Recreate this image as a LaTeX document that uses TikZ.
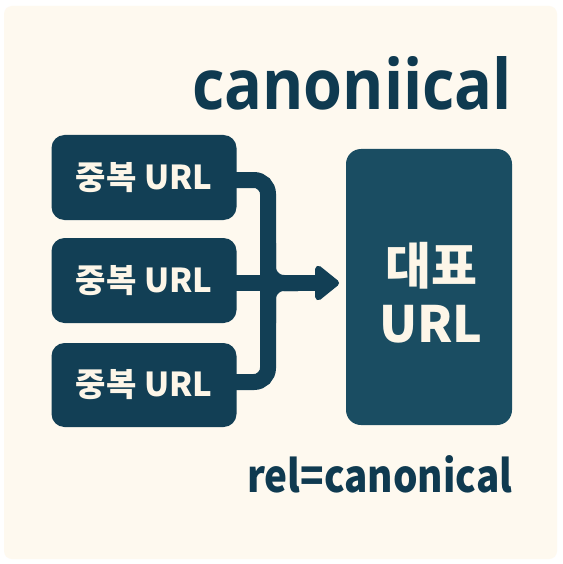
\documentclass[tikz,border=0pt]{standalone}
\usepackage{fontspec}
\setmainfont{Noto Sans CJK KR}
\newfontfamily\titlefont{Open Sans}
\usetikzlibrary{arrows.meta,calc}
\definecolor{bg}{HTML}{FEF9EF}
\definecolor{navy}{HTML}{123F55}
\definecolor{navyb}{HTML}{1A4D62}
\definecolor{cream}{HTML}{FDF6E8}
\definecolor{ink}{HTML}{0F3A50}
\begin{document}
\begin{tikzpicture}[x=1pt,y=-1pt,
  dupbox/.style={fill=navy, rounded corners=13pt, minimum width=185pt, minimum height=85pt,
    text=cream, inner sep=0, font=\bfseries\fontsize{33}{36}\selectfont},
  tgtbox/.style={fill=navyb, rounded corners=15pt, minimum width=166pt, minimum height=276pt, inner sep=0},
  tgttext/.style={text=cream, inner sep=0, align=center, font=\bfseries\fontsize{50}{58}\selectfont},
  conn/.style={draw=navy, line width=16pt},
  label/.style={anchor=base west, inner sep=0, text=ink}]
\useasboundingbox (0,0) rectangle (562,564);
\fill[white] (0,0) rectangle (562,564);
\fill[bg, rounded corners=8pt] (4,6) rectangle (557,559);

\coordinate (d1r) at (225,180);
\coordinate (d2r) at (225,283);
\coordinate (d3r) at (225,382);
\coordinate (bus) at (268,283);
\coordinate (tip) at (339,283);

% connectors
\draw[conn, rounded corners=14pt] (d1r) -| (bus) |- (d3r);
\draw[conn, rounded corners=16pt] ($(bus)+(0,-40)$) -- (bus) -- ++(30,0);
\draw[conn, rounded corners=16pt] ($(bus)+(0,40)$) -- (bus) -- ++(30,0);
\draw[conn, -{Triangle[length=26pt,width=40pt,round]}] (d2r) -- (tip);

% boxes
\node[dupbox] (d1) at (144,177.5) {중복 URL};
\node[dupbox] (d2) at (144,280.5) {중복 URL};
\node[dupbox, minimum height=84pt] (d3) at (144,385) {중복 URL};
\node[tgtbox] (tgt) at (429,287) {};
\node[tgttext] (tgtlabel) at ($(tgt.center)+(2,6)$) {대표\\URL};

% texts
\node[label] (title) at (192,110) {\resizebox{320pt}{53pt}{\titlefont\bfseries canoniical}};
\node[label] (rel) at (247,492) {\resizebox{265pt}{37pt}{\bfseries rel=canonical}};
\end{tikzpicture}
\end{document}
